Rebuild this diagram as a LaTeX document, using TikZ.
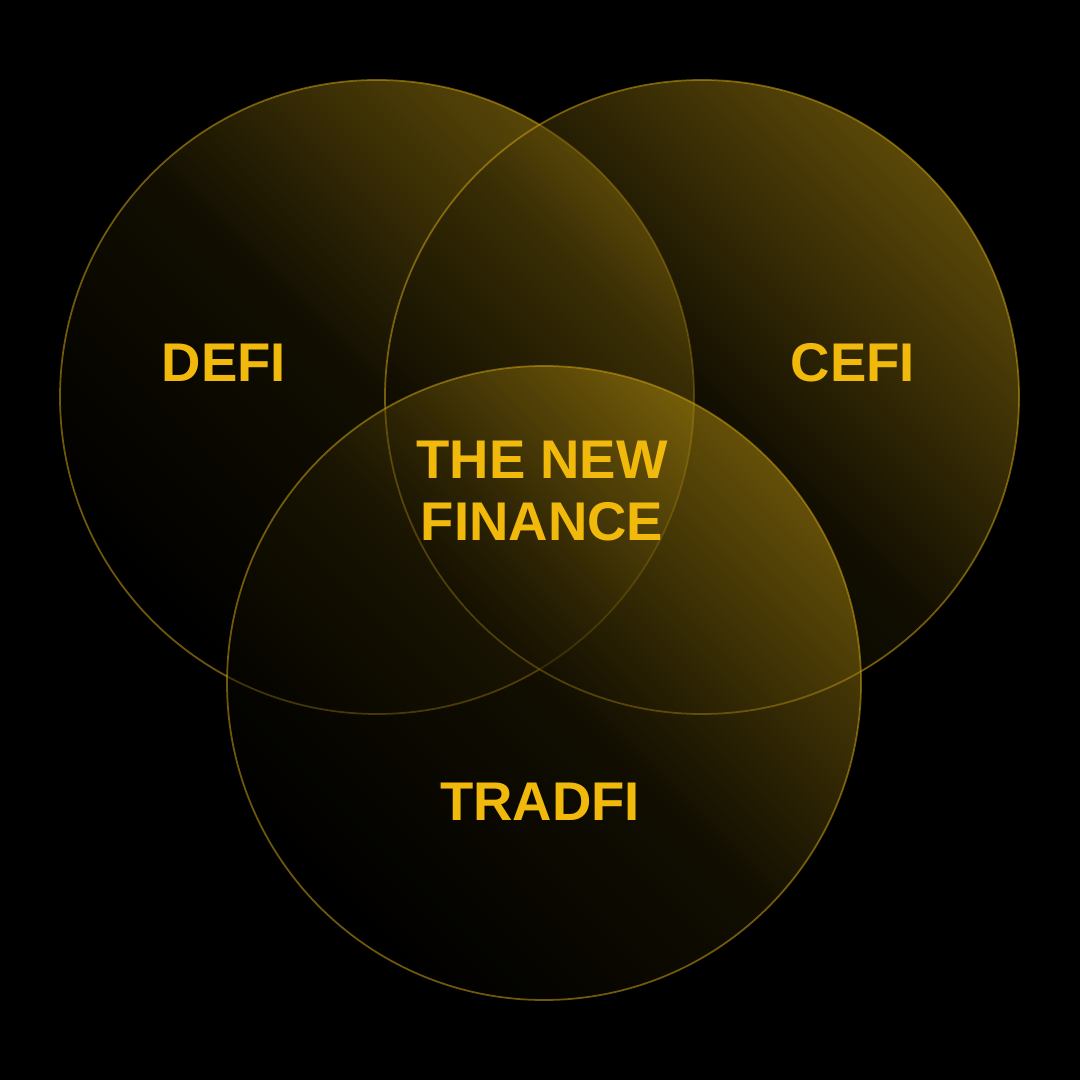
\documentclass[tikz,border=0pt]{standalone}
\usepackage{fontspec}
\setmainfont{Liberation Sans}
\definecolor{binance}{HTML}{F0B90B}
\definecolor{goldish}{HTML}{C9A012}
\tikzset{
  setdisc/.style={bottom color=black,top color=goldish,middle color=black!80!goldish,shading angle=-45,fill opacity=0.45,draw=goldish,draw opacity=0.55,line width=0.5pt},
  setlabel/.style={text=binance,font=\fontsize{15.5}{17.5}\selectfont\bfseries,align=center}
}
\begin{document}
\begin{tikzpicture}[x=0.01cm,y=-0.01cm]
    \fill[black] (0,0) rectangle (1080,1080);
    \useasboundingbox (0,0) rectangle (1080,1080);

    \coordinate (defic) at (377,397);
    \coordinate (cefic) at (702,397);
    \coordinate (tradc) at (544,683);

    % the three sets
    \shade[setdisc] (defic) circle (317);
    \shade[setdisc] (cefic) circle (317);
    \shade[setdisc] (tradc) circle (317);

    \node[setlabel] (defi) at (224,363) {DEFI};
    \node[setlabel] (cefi) at (853,363) {CEFI};
    \node[setlabel] (newfin) at (542,491) {THE NEW\\FINANCE};
    \node[setlabel] (tradfi) at (540,802) {TRADFI};
\end{tikzpicture}
\end{document}
